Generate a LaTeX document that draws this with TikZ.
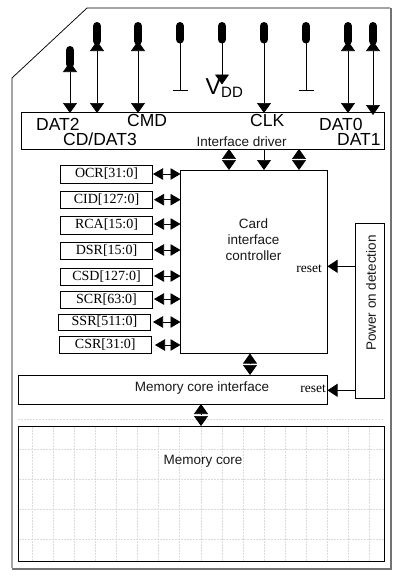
\documentclass[tikz,border=0pt]{standalone}
\usepackage{fontspec}
\setmainfont{Liberation Sans}
\newfontfamily\regfont{Liberation Serif}
\usetikzlibrary{arrows.meta}
\tikzset{
  box/.style={draw=black,line width=0.75pt,inner sep=0pt,fill=white},
  regbox/.style={box,font=\regfont\fontsize{14}{15}\selectfont},
  head/.style={-{Triangle[length=10pt,width=14pt]}},
  dhead/.style={{Triangle[length=10pt,width=14pt]}-{Triangle[length=10pt,width=14pt]}},
  hhead/.style={{Triangle[length=10pt,width=11.5pt]}-{Triangle[length=10pt,width=11.5pt]}},
  lhead/.style={{Triangle[length=10pt,width=13pt]}-},
  wire/.style={line width=0.7pt},
  pad/.style={line width=8pt,line cap=round},
  gridline/.style={draw=black!14,line width=0.5pt,dash pattern=on 2pt off 1pt},
  pinlabel/.style={inner sep=0pt,font=\fontsize{17.5}{18}\selectfont},
  sans/.style={inner sep=0pt,font=\fontsize{13.5}{15}\selectfont,text=black!90},
  resetlabel/.style={inner sep=0pt,font=\regfont\fontsize{13.5}{14}\selectfont}
}
\newcommand{\regbox}[5]{\node[regbox,minimum width=#3pt,minimum height=#4pt] (#1) at (#2) {#5};}
\begin{document}
\begin{tikzpicture}[x=1pt,y=-1pt]
\useasboundingbox (0,0) rectangle (400,579);
% card outline
\draw[line width=0.75pt] (390,8) -- (87,8) -- (12,78) -- (12,568);
\draw[draw=black!55,line width=1.3pt] (391,8) -- (391,569) -- (11.5,569);
% dashed grid
\coordinate (gl) at (18,419.5); \coordinate (gr) at (383,419.5);
\draw[gridline] (gl) -- (gr);
% memory core
\node[box,fill=none,minimum width=366pt,minimum height=135pt] (core) at (201.5,493.5) {};
\foreach \y in {449,479,509,539} \draw[gridline] (19,\y) -- (384,\y);
\foreach \x in {32,53,74,95,116,137,158,179,201,222.5,243.5,264.5,285.5,306.5,327.5,348.5,369.5} \draw[gridline] (\x,427) -- (\x,561);
\node[sans] (coretext) at (203,461) {Memory core};
% interface driver
\node[box,minimum width=362.5pt,minimum height=37pt] (driver) at (202.75,130.5) {};
\node[pinlabel,anchor=west] (d2) at (36,124.5) {DAT2};
\node[pinlabel,anchor=west] (d3) at (63,139) {CD/DAT3};
\node[pinlabel,anchor=west] (cmd) at (127,120.5) {CMD};
\node[pinlabel,anchor=west] (clk) at (250,120.5) {CLK};
\node[pinlabel,anchor=west] (d0) at (319,124) {DAT0};
\node[pinlabel,anchor=west] (d1) at (337,139.5) {DAT1};
\node[sans,anchor=west] (ifd) at (196.5,142) {Interface driver};
% pins
\foreach \n/\x/\t in {p2/70/50,p3/97/26,pc/138/26,pg1/180/26,pv/222/26,pk/264/26,pg2/306/26,p0/348/26,p1/373/26}{
  \coordinate (\n) at (\x,\t);
}
\foreach \n/\b in {p2/64,p3/41,pc/41,pg1/39.5,pv/39.5,pk/39.5,pg2/39.5,p0/41,p1/41}{
  \draw[pad] (\n) -- (\n |- 0,\b);
}
% bidirectional data pins
\foreach \n/\u/\e in {p2/62/113,p3/41/113,pc/41/113,p0/41/113,p1/41/115}{
  \coordinate (\n a) at (\n |- 0,\u);
  \coordinate (\n b) at (\n |- 0,\e);
  \draw[wire,dhead] (\n a) -- (\n b);
}
% ground pins
\coordinate (g1e) at (180,90); \coordinate (g2e) at (306,90);
\draw[wire] (pg1) -- (g1e);
\draw[line width=1pt] (172.5,90) -- (188,90);
\draw[wire] (pg2) -- (g2e);
\draw[line width=1pt] (298.5,90) -- (314,90);
% VDD and CLK
\coordinate (ve) at (222,84.5);
\draw[wire,head] (pv) -- (ve);
\draw[wire,head] (pk) -- (264,113);
\node[pinlabel,anchor=west,font=\fontsize{23}{24}\selectfont] (vdd) at (205.5,87) {V};
\node[pinlabel,anchor=west,font=\fontsize{15}{16}\selectfont] (vdds) at (221,92.5) {DD};
% controller
\node[box,minimum width=147pt,minimum height=183.5pt] (ctrl) at (254,261.75) {};
\node[sans,align=center,font=\fontsize{13.5}{16}\selectfont] (ctext) at (253.5,240) {Card\\interface\\controller};
\node[resetlabel,anchor=east] (r1) at (322,268.5) {reset};
% registers
\regbox{ocr}{106.5,174}{92}{18}{OCR[31:0]}
\regbox{cid}{106.5,199.7}{92}{17}{CID[127:0]}
\regbox{rca}{106.5,225}{92}{18}{RCA[15:0]}
\regbox{dsr}{106.5,250.5}{92}{17}{DSR[15:0]}
\regbox{csd}{106.5,276.5}{92}{17}{CSD[127:0]}
\regbox{scr}{106.5,299.7}{92}{17.5}{SCR[63:0]}
\regbox{ssr}{104.5,322}{92}{16}{SSR[511:0]}
\regbox{csr}{105.3,344.7}{91.5}{16.5}{CSR[31:0]}
\foreach \r/\y/\s in {ocr/174/153,cid/199.7/154,rca/224/154,dsr/250/154,csd/276/154,scr/299/154,ssr/322/153,csr/345/155}{
  \coordinate (\r c) at (180.5,\y);
  \coordinate (\r l) at (\s,\y);
  \draw[wire,hhead] (\r l) -- (\r c);
}
% driver-controller
\coordinate (c1) at (229,170); \coordinate (c2) at (264,170); \coordinate (c3) at (299,170);
\draw[wire,dhead] (229,149) -- (c1);
\draw[wire,head] (264,149) -- (c2);
\draw[wire,dhead] (299,149) -- (c3);
\foreach \x in {229,299} \draw[white,line width=0.7pt] (\x-7,159.5) -- (\x+7,159.5);
% memory interface
\node[box,minimum width=309pt,minimum height=29pt] (mif) at (173,389.5) {};
\node[sans] (mtext) at (202,388) {Memory core interface};
\node[resetlabel,anchor=east] (r2) at (326,389) {reset};
% ctrl-mem, mem-core
\draw[wire,dhead] (250,353.5) -- (250,375);
\draw[white,line width=0.7pt] (243,364.5) -- (257,364.5);
\draw[wire,dhead] (201,404) -- (201,426);
\draw[white,line width=0.7pt] (194,415) -- (208,415);
% power on detection
\node[box,minimum width=29pt,minimum height=174.5pt] (pod) at (370,310.75) {};
\node[sans,rotate=90] (podt) at (371,293) {Power on detection};
\draw[wire,lhead] (327.5,266.3) -- (355.5,266.3);
\draw[wire,lhead] (327.5,390.3) -- (355.5,390.3);
\end{tikzpicture}
\end{document}
